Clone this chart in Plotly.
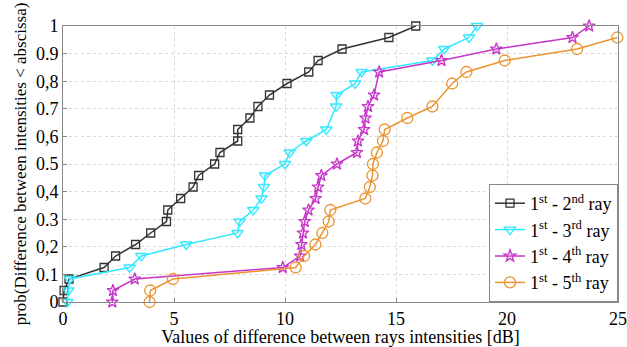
import plotly.graph_objects as go

# CDF levels (k/24)
lv = [k / 24 for k in range(25)]

x_12 = [0, 0.05, 0.27, 1.85, 2.37, 3.27, 3.95, 4.66, 4.72, 5.30, 5.86, 6.11, 6.83, 7.07,
        7.87, 7.87, 8.42, 8.78, 9.30, 10.09, 11.07, 11.49, 12.57, 14.68, 15.89]
y_12 = lv

x_13 = [0.2, 0.24, 0.3, 3.0, 3.53, 5.55, 7.86, 7.96, 8.57, 8.94, 9.05, 9.1, 10.0, 10.21,
        10.96, 11.86, 12.3, 12.33, 13.16, 13.45, 16.64, 17.17, 18.29, 18.65]
y_13 = lv[:16] + lv[17:]

x_14 = [2.22, 2.25, 3.23, 9.9, 10.68, 10.74, 10.81, 10.89, 11.06, 11.38, 11.49, 11.64,
        12.34, 13.24, 13.29, 13.56, 13.63, 13.74, 14.01, 14.24, 17.05, 19.52, 22.95, 23.7]
y_14 = lv[:19] + lv[20:]

x_15 = [3.9, 3.93, 4.95, 10.48, 10.86, 11.37, 11.68, 11.97, 12.04, 13.62, 13.82, 13.94,
        13.96, 14.14, 14.41, 14.49, 15.51, 16.64, 17.53, 18.17, 19.9, 23.16, 24.97]
y_15 = lv[:18] + lv[19:24]

names = ["1<sup>st</sup> - 2<sup>nd</sup> ray", "1<sup>st</sup> - 3<sup>rd</sup> ray",
         "1<sup>st</sup> - 4<sup>th</sup> ray", "1<sup>st</sup> - 5<sup>th</sup> ray"]

x_ticks = [0, 5, 10, 15, 20, 25]
y_ticks = [0, 0.1, 0.2, 0.3, 0.4, 0.5, 0.6, 0.7, 0.8, 0.9, 1.0]
y_ticktext = ["0", "0.1", "0,2", "0.3", "0,4", "0.5", "0,6", "0.7", "0,8", "0.9", "1"]

series = [
    (x_12, y_12, names[0], "#333333", "square-open", 8),
    (x_13, y_13, names[1], "#33e8ff", "triangle-down-open", 10),
    (x_14, y_14, names[2], "#c637c9", "star-open", 9),
    (x_15, y_15, names[3], "#eb9430", "circle-open", 11),
]

fig = go.Figure()
for xs, ys, nm, col, sym, sz in series:
    fig.add_trace(go.Scatter(
        x=xs, y=ys, name=nm, mode="lines+markers",
        line=dict(color=col, width=1.5),
        marker=dict(symbol=sym, size=sz, color=col, line=dict(width=1.3, color=col)),
        cliponaxis=False,
    ))

font = "Liberation Serif, Times New Roman, serif"
fig.update_layout(
    template="none",
    width=627, height=347,
    margin=dict(l=63, r=9, t=26, b=45, autoexpand=False),
    paper_bgcolor="white", plot_bgcolor="white",
    font=dict(family=font, size=18, color="black"),
    showlegend=True,
    legend=dict(x=1, y=0, xanchor="right", yanchor="bottom",
                bgcolor="white", bordercolor="#888888", borderwidth=1,
                font=dict(family=font, size=18, color="black"), itemwidth=30,
                tracegroupgap=0),
)
fig.update_xaxes(
    range=[0, 25], tickvals=x_ticks, ticktext=[str(v) for v in x_ticks],
    automargin=False,
    showgrid=True, gridcolor="#d8d8d8", griddash="dot", gridwidth=1,
    showline=True, linecolor="#888888", linewidth=1, mirror=True,
    ticks="inside", ticklen=4, tickcolor="#888888", zeroline=False,
    title=dict(text="Values of difference between rays intensities [dB]", standoff=0,
               font=dict(family=font, size=18)),
    tickfont=dict(family=font, size=18),
)
fig.update_yaxes(
    range=[0, 1], tickvals=y_ticks, ticktext=y_ticktext,
    automargin=False,
    showgrid=True, gridcolor="#d8d8d8", griddash="dot", gridwidth=1,
    showline=True, linecolor="#888888", linewidth=1, mirror=True,
    ticks="inside", ticklen=4, tickcolor="#888888", zeroline=False,
    title=dict(text="prob(Difference between intensities < abscissa)", standoff=4,
               font=dict(family=font, size=17)),
    tickfont=dict(family=font, size=18),
)

fig.write_html("out.html", config={"displayModeBar": False},
               post_script="document.body.style.margin='0';")
